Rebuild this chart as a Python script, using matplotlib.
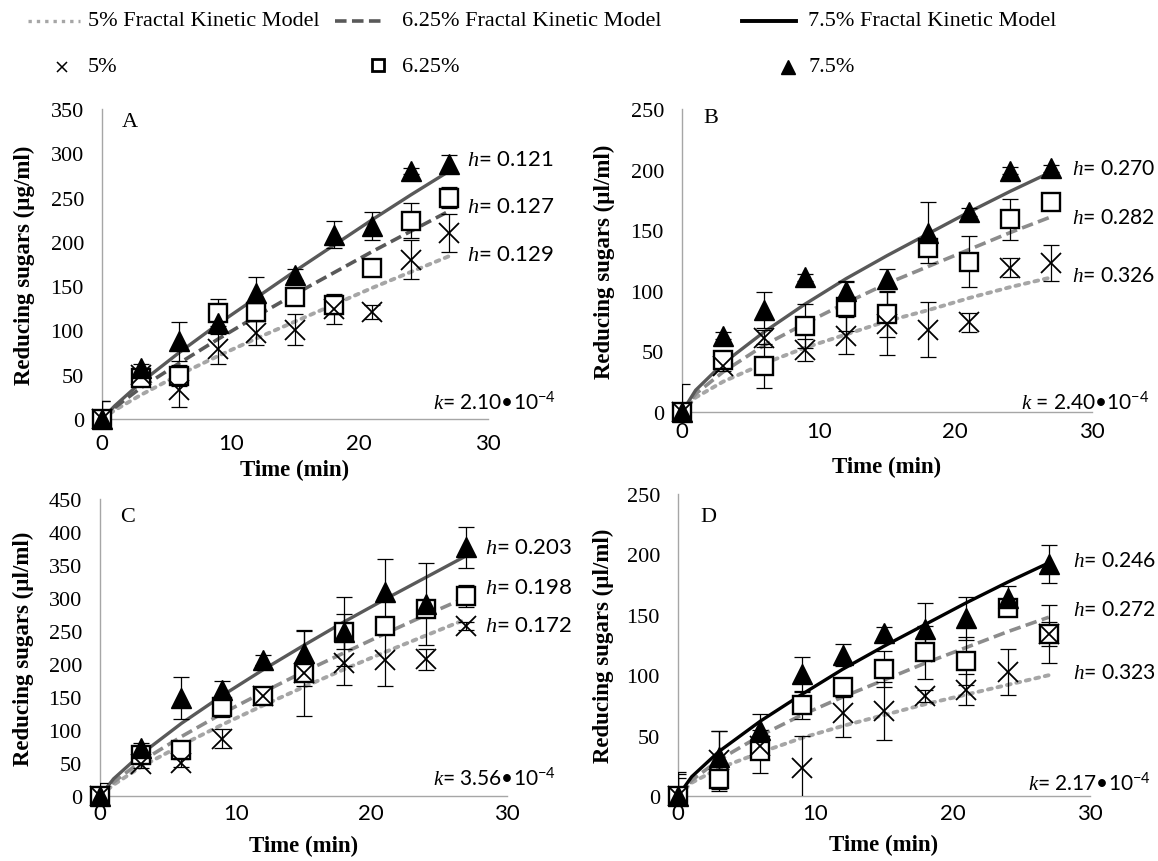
import matplotlib
matplotlib.use("Agg")
import matplotlib.pyplot as plt
from matplotlib.lines import Line2D

plt.rcParams['mathtext.fontset'] = 'custom'
plt.rcParams['mathtext.it'] = 'Liberation Serif:italic'
plt.rcParams['mathtext.rm'] = 'Lato'
plt.rcParams['font.family'] = ['Liberation Serif', 'DejaVu Sans']

# ---------------- data ----------------
t_obs = [0, 3, 6, 9, 12, 15, 18, 21, 24, 27]
t_mod = [0, 1, 3, 6, 9, 12, 15, 18, 21, 24, 27]

# Panel A
A_x5 = [0, 50, 33, 79, 97, 101, 124, 121, 180, 210]
A_x5_err = [20, 5, 19, 17, 14, 17, 17, 8, 22, 22]
A_sq625 = [0, 46, 49, 120, 121, 138, 129, 171, 224, 250]
A_sq625_err = [20, 5, 12, 15, 10, 8, 10, 8, 20, 12]
A_tri75 = [0, 58, 88, 108, 142, 163, 208, 218, 280, 288]
A_tri75_err = [0, 4, 22, 6, 18, 6, 15, 16, 3, 10]
A_m5 = [0, 10, 27, 50, 71, 91, 110, 129, 148, 166, 184]
A_m625 = [0, 13, 35, 63, 90, 116, 141, 165, 189, 212, 235]
A_m75 = [0, 15, 41, 75, 107, 137, 167, 196, 225, 253, 280]

# Panel B
B_x5 = [0, 38, 61, 51, 63, 73, 68, 74, 119, 123]
B_x5_err = [0, 4, 7, 9, 15, 26, 23, 8, 8, 15]
B_sq625 = [0, 43, 38, 71, 87, 81, 135, 124, 159, 173]
B_sq625_err = [23, 4, 18, 18, 20, 19, 6, 21, 17, 5]
B_tri75 = [0, 63, 84, 111, 100, 110, 148, 165, 199, 201]
B_tri75_err = [0, 3, 15, 3, 8, 8, 25, 3, 3, 3]
B_m5 = [0, 12, 25, 40, 53, 64, 75, 84, 94, 103, 111]
B_m625 = [0, 15, 33, 55, 73, 90, 106, 120, 134, 148, 161]
B_m75 = [0, 18, 40, 66, 89, 110, 129, 147, 165, 182, 198]

# Panel C
C_x5 = [0, 48, 50, 87, 152, 186, 202, 206, 207, 258]
C_x5_err = [10, 6, 6, 14, 12, 20, 34, 40, 16, 6]
C_sq625 = [0, 62, 70, 135, 152, 186, 249, 258, 284, 303]
C_sq625_err = [10, 8, 8, 15, 10, 65, 27, 8, 8, 17]
C_tri75 = [0, 73, 148, 161, 206, 217, 249, 309, 291, 377]
C_tri75_err = [20, 8, 32, 14, 8, 33, 52, 50, 62, 31]
C_m5 = [0, 17, 44, 77, 108, 137, 165, 192, 218, 243, 268]
C_m625 = [0, 21, 52, 90, 125, 157, 188, 217, 246, 274, 301]
C_m75 = [0, 26, 63, 110, 152, 191, 228, 264, 298, 331, 364]

# Panel D
D_x5 = [0, 30, 41, 23, 69, 70, 83, 88, 103, 134]
D_x5_err = [15, 24, 5, 27, 20, 24, 5, 13, 19, 10]
D_sq625 = [0, 14, 37, 75, 90, 105, 119, 112, 156, 134]
D_sq625_err = [18, 10, 18, 11, 8, 15, 22, 20, 5, 24]
D_tri75 = [0, 32, 55, 101, 117, 135, 138, 147, 164, 192]
D_tri75_err = [20, 22, 13, 14, 9, 5, 22, 18, 10, 16]
D_m5 = [0, 11, 23, 36, 48, 58, 67, 76, 84, 92, 100]
D_m625 = [0, 13, 30, 50, 67, 82, 96, 110, 123, 136, 148]
D_m75 = [0, 16, 37, 62, 84, 105, 124, 142, 160, 177, 193]

panel_letters = ['A', 'B', 'C', 'D']
y_max = [350, 250, 450, 250]
y_labels = ['Reducing sugars (µg/ml)', 'Reducing sugars (µl/ml)',
            'Reducing sugars (µl/ml)', 'Reducing sugars (µl/ml)']
h_values = [['0.121', '0.127', '0.129'], ['0.270', '0.282', '0.326'],
            ['0.203', '0.198', '0.172'], ['0.246', '0.272', '0.323']]
h_label_y = [[293, 240, 186], [201, 161, 113], [377, 317, 259], [195, 155, 103]]
h_label_x = [28.4, 28.5, 28.4, 28.75]
h_font = [16, 15.2, 16, 15.2]
letter_pos = [(1.55, 336), (1.6, 243), (1.5, 424), (1.6, 231)]
k_texts = ['$k$= 2.10•10$^{-4}$', '$k$ = 2.40•10$^{-4}$',
           '$k$= 3.56•10$^{-4}$', '$k$= 2.17•10$^{-4}$']
k_pos = [(35.3, 20), (34.2, 9), (33.6, 28), (34.45, 11)]
x_ticks = [0, 10, 20, 30]
legend_line_labels = ['5% Fractal Kinetic Model', '6.25% Fractal Kinetic Model',
                      '7.5% Fractal Kinetic Model']
legend_marker_labels = ['5%', '6.25%', '7.5%']

panels = [
    (A_x5, A_x5_err, A_sq625, A_sq625_err, A_tri75, A_tri75_err, A_m5, A_m625, A_m75),
    (B_x5, B_x5_err, B_sq625, B_sq625_err, B_tri75, B_tri75_err, B_m5, B_m625, B_m75),
    (C_x5, C_x5_err, C_sq625, C_sq625_err, C_tri75, C_tri75_err, C_m5, C_m625, C_m75),
    (D_x5, D_x5_err, D_sq625, D_sq625_err, D_tri75, D_tri75_err, D_m5, D_m625, D_m75),
]

# ---------------- figure ----------------
W, H = 1158, 862
fig = plt.figure(figsize=(W / 100, H / 100), dpi=100)

# axes boxes in pixels: left, right, top, bottom
boxes = [(102, 488, 110, 420), (682, 1092, 110, 413),
         (100, 507, 500, 797), (678, 1090, 495, 797)]
xtick_pad = [10, 6.5, 5, 5]
xlabel_y = [470, 467, 846, 845]
ylabel_x = [24, 604, 23, 603]

dot_col = '#a6a6a6'
dash_cols = ['#595959', '#8c8c8c', '#8c8c8c', '#8c8c8c']
solid_cols = ['#595959', '#595959', '#595959', '#000000']
gray_axis = '#a6a6a6'
num_font = ['Lato', 'DejaVu Sans']
DOT = (0, (1, 1.5))
DASH = (0, (3.2, 1.5))

for i, (box, data) in enumerate(zip(boxes, panels)):
    l, r, t, b = box
    ax = fig.add_axes([l / W, 1 - b / H, (r - l) / W, (b - t) / H])
    x5, x5e, sq, sqe, tri, trie, m5, m625, m75 = data

    ax.plot(t_mod, m5, linestyle=DOT, color=dot_col, lw=2.8,
            dash_capstyle='round', zorder=2)
    ax.plot(t_mod, m625, linestyle=DASH, color=dash_cols[i], lw=2.6, zorder=2)
    ax.plot(t_mod, m75, linestyle='-', color=solid_cols[i], lw=2.4, zorder=2)

    for yv, ye in ((x5, x5e), (sq, sqe), (tri, trie)):
        ax.errorbar(t_obs, yv, yerr=ye, fmt='none', ecolor='black', elinewidth=0.9,
                    capsize=6, capthick=0.9, zorder=3)

    ax.plot(t_obs, sq, linestyle='none', marker='s', markersize=13,
            markerfacecolor='white', markeredgecolor='black', markeredgewidth=1.7,
            zorder=4, clip_on=False)
    ax.plot(t_obs, tri, linestyle='none', marker='^', markersize=14,
            color='black', zorder=5, clip_on=False)
    ax.plot(t_obs, x5, linestyle='none', marker='x', markersize=14,
            markeredgecolor='black', markeredgewidth=1.3, zorder=6, clip_on=False)

    ax.set_xlim(0, 30)
    ax.set_ylim(0, y_max[i])
    ax.set_xticks(x_ticks)
    ax.set_yticks(list(range(0, y_max[i] + 1, 50)))
    for sp in ['top', 'right']:
        ax.spines[sp].set_visible(False)
    for sp in ['left', 'bottom']:
        ax.spines[sp].set_color(gray_axis)
        ax.spines[sp].set_linewidth(1.0)
    ax.tick_params(axis='y', length=0, pad=13)
    ax.tick_params(axis='x', length=0, pad=xtick_pad[i])
    for lab in ax.get_yticklabels():
        lab.set_fontfamily('Liberation Serif')
        lab.set_fontsize(16)
    for lab in ax.get_xticklabels():
        lab.set_fontfamily(num_font)
        lab.set_fontsize(16)
    ax.set_ylabel(y_labels[i], fontsize=16.5, fontweight='bold', va='center', ha='center')
    ax.yaxis.set_label_coords((ylabel_x[i] - l) / (r - l), 0.5)
    ax.set_xlabel('Time (min)', fontsize=16.5, fontweight='bold', va='center')
    ax.xaxis.set_label_coords(0.5, -(xlabel_y[i] - b) / (b - t))

    lx, ly = letter_pos[i]
    ax.text(lx, ly, panel_letters[i], fontsize=16, ha='left', va='center')
    for hv, hy in zip(h_values[i], h_label_y[i]):
        ax.text(h_label_x[i], hy, '$h$= ' + hv, fontsize=h_font[i], family=num_font,
                ha='left', va='center', clip_on=False)
    kx, ky = k_pos[i]
    ax.text(kx, ky, k_texts[i], fontsize=15, family=num_font,
            ha='right', va='center', clip_on=False)

# ---------------- legend (manual) ----------------
def fx(px):
    return px / W

def fy(py):
    return 1 - py / H

row1_y, row2_y = 22, 68
leg_lines = [((28, 80), DOT, dot_col, 2.4), ((335, 385), DASH, '#595959', 2.6),
             ((742, 796), '-', '#000000', 2.8)]
leg_text_x = [88, 402, 808]
for (x0, x1), ls, col, lw in leg_lines:
    fig.add_artist(Line2D([fx(x0), fx(x1)], [fy(row1_y), fy(row1_y)],
                          transform=fig.transFigure, linestyle=ls, color=col, lw=lw))
for k in range(3):
    fig.text(fx(leg_text_x[k]), fy(row1_y), legend_line_labels[k], fontsize=16,
             ha='left', va='center')
    fig.text(fx(leg_text_x[k]), fy(row2_y), legend_marker_labels[k], fontsize=16,
             ha='left', va='center')
fig.add_artist(Line2D([fx(62)], [fy(row2_y)], transform=fig.transFigure,
                      linestyle='none', marker='x', markersize=7,
                      markeredgecolor='black', markeredgewidth=1.1))
fig.add_artist(Line2D([fx(378)], [fy(row2_y - 2)], transform=fig.transFigure,
                      linestyle='none', marker='s', markersize=8.5,
                      markerfacecolor='white', markeredgecolor='black',
                      markeredgewidth=2.0))
fig.add_artist(Line2D([fx(788)], [fy(row2_y)], transform=fig.transFigure,
                      linestyle='none', marker='^', markersize=10,
                      color='black'))

fig.savefig('out.png', dpi=100)
